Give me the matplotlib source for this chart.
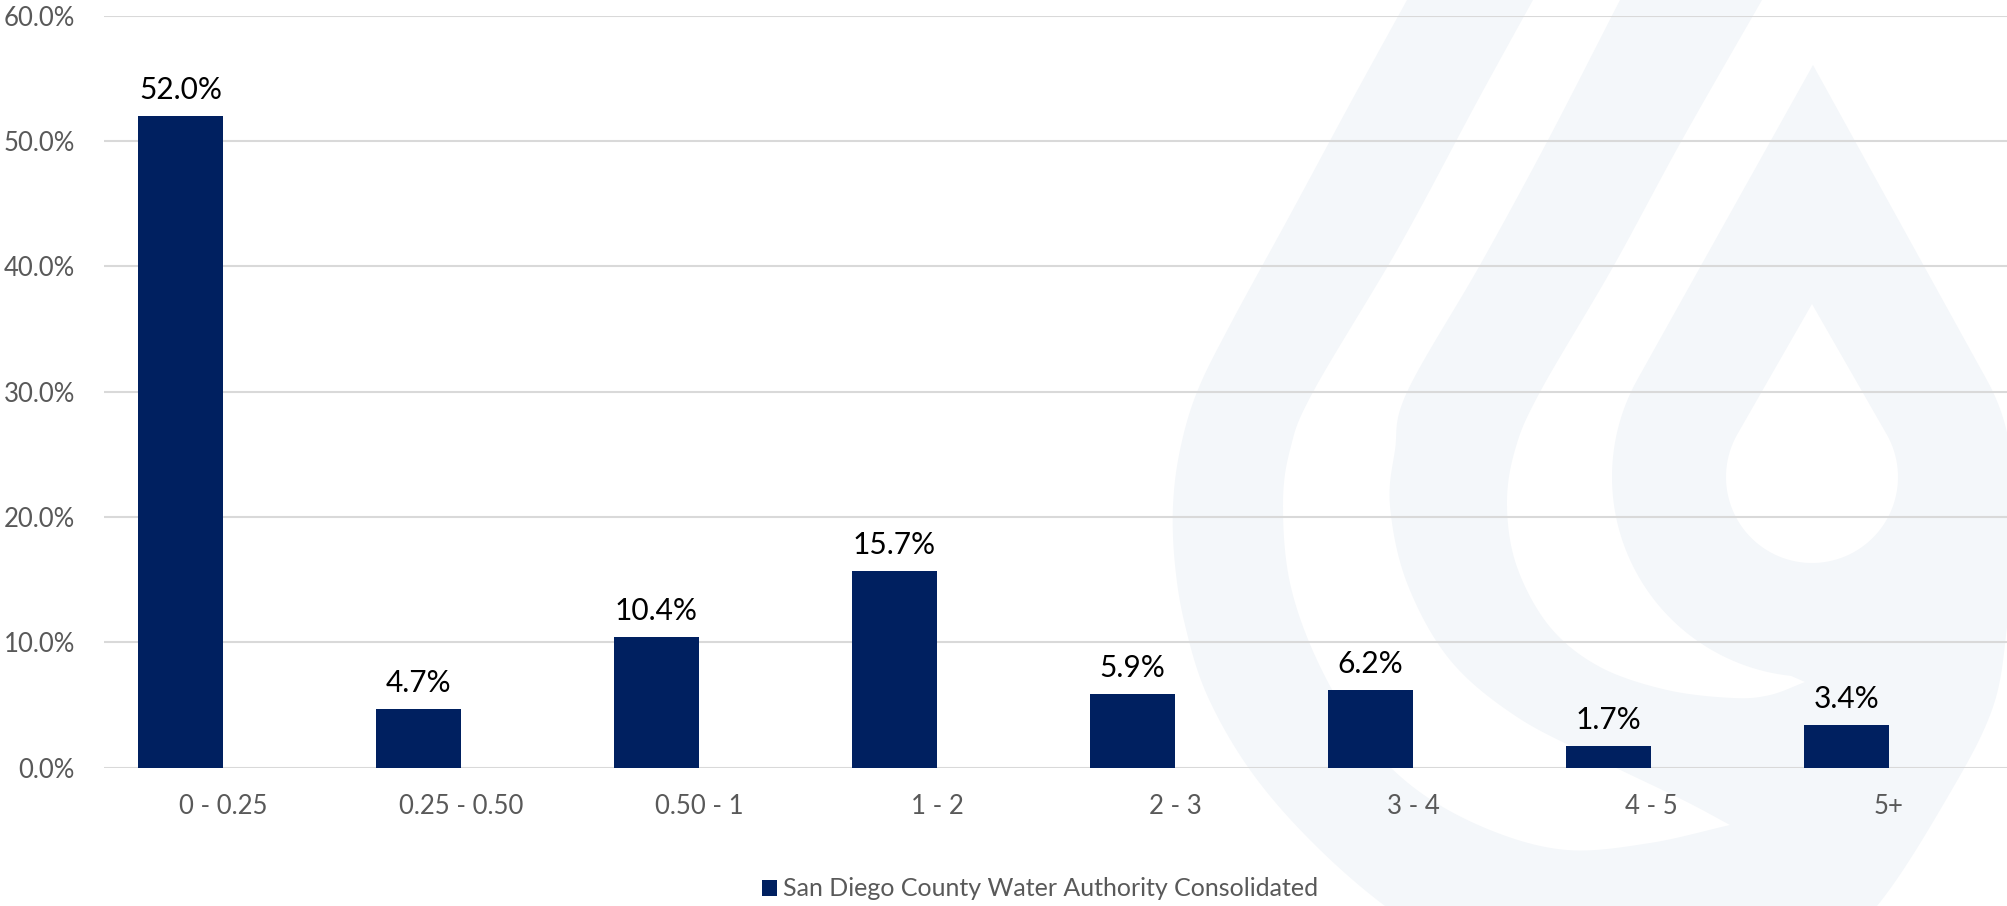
import numpy as np
import matplotlib
matplotlib.use("Agg")
import matplotlib.pyplot as plt
from matplotlib.patches import Polygon

plt.rcParams['font.family'] = ['Lato', 'DejaVu Sans']

# ---- data ----
categories = ['0 - 0.25', '0.25 - 0.50', '0.50 - 1', '1 - 2', '2 - 3', '3 - 4', '4 - 5', '5+']
values = [52.0, 4.7, 10.4, 15.7, 5.9, 6.2, 1.7, 3.4]
series_name = 'San Diego County Water Authority Consolidated'
yticks = [0, 10, 20, 30, 40, 50, 60]

BAR = '#002060'
GRID = '#d9d9d9'
TXT = '#595959'
WM = '#f4f7fa'

W, H = 2008, 906
fig = plt.figure(figsize=(W / 100, H / 100), dpi=100)
fig.patch.set_facecolor('white')

# ---- watermark (decorative, pixel coordinates) ----
bg = fig.add_axes([0, 0, 1, 1])
bg.set_xlim(0, W)
bg.set_ylim(H, 0)
bg.axis('off')
bg.set_zorder(0)


def cr(pts, n=12):
    pts = np.asarray(pts, float)
    p = np.vstack([2 * pts[0] - pts[1], pts, 2 * pts[-1] - pts[-2]])
    out = []
    t = np.linspace(0, 1, n, endpoint=False)[:, None]
    for i in range(1, len(p) - 2):
        p0, p1, p2, p3 = p[i - 1], p[i], p[i + 1], p[i + 2]
        seg = 0.5 * ((2 * p1) + (-p0 + p2) * t + (2 * p0 - 5 * p1 + 4 * p2 - p3) * t ** 2
                     + (-p0 + 3 * p1 - 3 * p2 + p3) * t ** 3)
        out.append(seg)
    out.append(pts[-1:])
    return np.vstack(out)


def arc(cx, cy, r, a0, a1, n=60):
    a = np.radians(np.linspace(a0, a1, n))
    return np.column_stack([cx + r * np.cos(a), cy + r * np.sin(a)])


cx, cy = 1812, 477
outer_chain = cr([(1418, -20), (1407, 0), (1352, 100), (1290, 215), (1230, 325), (1197, 392),
                  (1180, 450), (1173, 506), (1175, 565), (1185, 625), (1207, 695), (1250, 770),
                  (1310, 840), (1385, 906), (1470, 960)])
bottom = np.array([(1600, 1010), (1780, 990)])
right_chain = cr([(1800, 975), (1877, 906), (1950, 793), (1993, 707), (2007, 627), (2012, 560)])
r_in = 200
th = np.degrees(np.arccos(r_in / (cy - 65)))
arc_r = arc(cx, cy, r_in, 10, -(90 - th), 30)
tip = np.array([(1813, 65)])
arc_l = arc(cx, cy, r_in, 180 + (90 - th), 96, 60)
mid_chain = cr([(1805, 682), (1770, 695), (1733, 698), (1667, 690), (1600, 667), (1550, 627),
                (1517, 567), (1507, 506), (1515, 450), (1540, 392), (1613, 267), (1682, 140),
                (1762, 0), (1773, -20)])
L = np.vstack([outer_chain, bottom, right_chain, arc_r, tip, arc_l, mid_chain])
bg.add_patch(Polygon(L, closed=True, facecolor=WM, edgecolor='none'))

gap1_a = cr([(1544, -20), (1533, 0), (1478, 100), (1400, 245), (1313, 392), (1290, 450),
             (1283, 506), (1290, 583), (1317, 660), (1360, 733), (1417, 790), (1490, 830),
             (1567, 850), (1650, 843), (1730, 825)])
gap1_b = cr([(1730, 825), (1683, 800), (1600, 760), (1517, 717), (1450, 660), (1407, 583),
             (1390, 506), (1395, 450), (1407, 392), (1480, 265), (1548, 140), (1620, 0),
             (1631, -20)])
bg.add_patch(Polygon(np.vstack([gap1_a, gap1_b]), closed=True, facecolor='white', edgecolor='none'))

r_h = 86
th_h = np.degrees(np.arccos(r_h / (cy - 304)))
hole = np.vstack([[(1812, 304)], arc(cx, cy, r_h, -(90 - th_h), 180 + (90 - th_h), 80)])
bg.add_patch(Polygon(hole, closed=True, facecolor='white', edgecolor='none'))

# ---- main chart ----
ax = fig.add_axes([104 / W, 1 - 767.5 / H, 1 - 104 / W, (767.5 - 15.7) / H])
ax.set_zorder(1)
ax.patch.set_alpha(0)

x = np.arange(len(categories))
bw = 0.357
bars = ax.bar(x - bw / 2, values, width=bw, color=BAR, zorder=3, label=series_name)
ax.bar_label(bars, labels=[f'{v:.1f}%' for v in values], padding=8.5,
             fontsize=21.5, color='black')

ax.set_xlim(-0.5, len(categories) - 0.5)
ax.set_ylim(0, 60)
ax.set_yticks(yticks)
ax.set_yticklabels([f'{v:.1f}%' for v in yticks])
ax.set_xticks(x)
ax.set_xticklabels(categories)
ax.tick_params(axis='y', length=0, pad=21, labelsize=18.5, labelcolor=TXT)
ax.tick_params(axis='x', length=0, pad=19, labelsize=18.5, labelcolor=TXT)
ax.grid(axis='y', color=GRID, linewidth=1.5, zorder=1)
ax.set_axisbelow(True)
for s in ax.spines.values():
    s.set_visible(False)

fig.legend(handles=[bars], labels=[series_name], loc='center',
           bbox_to_anchor=(1040 / W, 1 - 889 / H), frameon=False,
           fontsize=18, labelcolor=TXT, handlelength=0.62, handleheight=0.62,
           handletextpad=0.25, borderpad=0)

fig.savefig('out.png', dpi=100, facecolor='white')
